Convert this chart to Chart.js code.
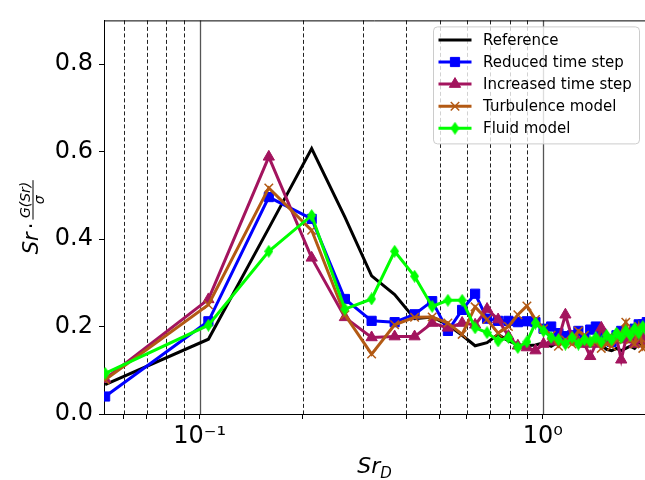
<!DOCTYPE html>
<html>
<head>
<meta charset="utf-8">
<script src="https://cdn.jsdelivr.net/npm/chart.js@4/dist/chart.umd.min.js"></script>
<style>
  html, body { margin: 0; padding: 0; background: #fff; }
  canvas { display: block; }
</style>
</head>
<body>
<canvas id="chart" width="645" height="480"></canvas>
<script>
// Strouhal numbers Sr_D, shared by all runs
const srD = [0.053, 0.106, 0.159, 0.212, 0.265, 0.317, 0.370, 0.423, 0.476, 0.529,
             0.582, 0.635, 0.688, 0.741, 0.794, 0.846, 0.899, 0.952, 1.005, 1.058,
             1.111, 1.164, 1.217, 1.270, 1.323, 1.375, 1.428, 1.481, 1.534, 1.587,
             1.640, 1.693, 1.746, 1.799, 1.852, 1.904, 1.957, 2.010];

const reference = [0.067, 0.171, 0.425, 0.607, 0.45, 0.316, 0.273, 0.218, 0.222, 0.204,
                   0.18, 0.156, 0.163, 0.182, 0.167, 0.158, 0.156, 0.158, 0.163, 0.155,
                   0.165, 0.16, 0.165, 0.16, 0.155, 0.16, 0.165, 0.158, 0.148, 0.145,
                   0.15, 0.145, 0.15, 0.155, 0.15, 0.16, 0.155, 0.155];
const reducedStep = [0.04, 0.212, 0.496, 0.446, 0.263, 0.213, 0.21, 0.228, 0.258, 0.19,
                     0.238, 0.275, 0.218, 0.213, 0.213, 0.21, 0.212, 0.21, 0.195, 0.2,
                     0.185, 0.178, 0.18, 0.19, 0.17, 0.193, 0.2, 0.185, 0.17, 0.165,
                     0.18, 0.19, 0.18, 0.185, 0.195, 0.205, 0.205, 0.21];
const increasedStep = [0.08, 0.262, 0.588, 0.357, 0.221, 0.175, 0.177, 0.177, 0.208, 0.197,
                       0.208, 0.204, 0.24, 0.216, 0.178, 0.156, 0.152, 0.145, 0.16, 0.165,
                       0.17, 0.227, 0.175, 0.165, 0.16, 0.132, 0.16, 0.197, 0.165, 0.17,
                       0.175, 0.124, 0.17, 0.185, 0.16, 0.17, 0.175, 0.16];
const turbulence = [0.078, 0.25, 0.517, 0.42, 0.227, 0.137, 0.204, 0.221, 0.222, 0.208,
                    0.182, 0.245, 0.216, 0.185, 0.2, 0.227, 0.247, 0.216, 0.195, 0.18,
                    0.155, 0.17, 0.16, 0.19, 0.18, 0.165, 0.165, 0.15, 0.16, 0.155,
                    0.17, 0.185, 0.21, 0.17, 0.16, 0.2, 0.15, 0.16];
const fluid = [0.093, 0.203, 0.372, 0.454, 0.24, 0.263, 0.372, 0.315, 0.246, 0.26,
               0.26, 0.197, 0.186, 0.167, 0.175, 0.152, 0.165, 0.208, 0.19, 0.175,
               0.17, 0.16, 0.175, 0.16, 0.17, 0.165, 0.175, 0.165, 0.18, 0.17,
               0.185, 0.175, 0.19, 0.18, 0.195, 0.185, 0.2, 0.19];

const seriesNames = ['Reference', 'Reduced time step', 'Increased time step', 'Turbulence model', 'Fluid model'];
const yTicks = [0, 0.2, 0.4, 0.6, 0.8];
const xTicks = [0.06, 0.07, 0.08, 0.09, 0.1, 0.2, 0.3, 0.4, 0.5, 0.6, 0.7, 0.8, 0.9, 1];
const xTickLabels = { 0.1: '10\u207B\u00B9', 1: '10\u2070' };

const FONT = '"DejaVu Sans", sans-serif';

// thin diamond marker ('d' in matplotlib)
function thinDiamond(color, w, h) {
  const c = document.createElement('canvas');
  c.width = w; c.height = h;
  const g = c.getContext('2d');
  g.fillStyle = color;
  g.beginPath();
  g.moveTo(w / 2, 0); g.lineTo(w, h / 2); g.lineTo(w / 2, h); g.lineTo(0, h / 2);
  g.closePath(); g.fill();
  return c;
}

const styles = [
  { color: '#000000', marker: false, r: 0 },
  { color: '#0000ff', marker: 'rect', r: 6.5 },
  { color: '#a3145e', marker: 'triangle', r: 6.5 },
  { color: '#b35a14', marker: 'crossRot', r: 6, bw: 1.5 },
  { color: '#00ff00', marker: thinDiamond('#00ff00', 9, 13), r: 6 }
];
const allSeries = [reference, reducedStep, increasedStep, turbulence, fluid];

const datasets = allSeries.map((ys, i) => {
  const s = styles[i];
  return {
    label: seriesNames[i],
    data: ys.map((y, k) => ({ x: srD[k], y: y })),
    borderColor: s.color,
    backgroundColor: s.color,
    borderWidth: 3,
    tension: 0,
    fill: false,
    order: allSeries.length - i,
    pointStyle: s.marker,
    pointRadius: s.marker ? s.r : 0,
    pointBorderWidth: s.bw || 1,
    pointBorderColor: s.color,
    pointBackgroundColor: s.color
  };
});

function drawMarker(ctx, s, x, y) {
  ctx.fillStyle = s.color;
  ctx.strokeStyle = s.color;
  ctx.lineWidth = s.bw || 1;
  ctx.beginPath();
  if (s.marker === 'rect') {
    const h = s.r * Math.SQRT1_2;
    ctx.rect(x - h, y - h, 2 * h, 2 * h);
    ctx.fill(); ctx.stroke();
  } else if (s.marker === 'triangle') {
    ctx.moveTo(x, y - s.r);
    ctx.lineTo(x + 0.866 * s.r, y + 0.5 * s.r);
    ctx.lineTo(x - 0.866 * s.r, y + 0.5 * s.r);
    ctx.closePath();
    ctx.fill(); ctx.stroke();
  } else if (s.marker === 'crossRot') {
    const d = s.r * Math.SQRT1_2;
    ctx.moveTo(x - d, y - d); ctx.lineTo(x + d, y + d);
    ctx.moveTo(x + d, y - d); ctx.lineTo(x - d, y + d);
    ctx.stroke();
  } else if (s.marker instanceof HTMLCanvasElement) {
    ctx.drawImage(s.marker, x - s.marker.width / 2, y - s.marker.height / 2);
  }
}

// dashed / solid vertical lines at every x tick, plus top spine
const gridLines = {
  id: 'gridLines',
  beforeDatasetsDraw(chart) {
    const { ctx, chartArea: a } = chart;
    const x = chart.scales.x;
    ctx.save();
    xTicks.forEach(v => {
      const px = Math.round(x.getPixelForValue(v)) + 0.5;
      const major = v === 0.1 || v === 1;
      ctx.beginPath();
      ctx.lineWidth = major ? 1.3 : 1;
      ctx.strokeStyle = major ? '#555555' : '#222222';
      ctx.setLineDash(major ? [] : [4, 2.5]);
      ctx.moveTo(px, a.top);
      ctx.lineTo(px, a.bottom);
      ctx.stroke();
    });
    ctx.setLineDash([]);
    ctx.strokeStyle = '#000';
    ctx.lineWidth = 1;
    ctx.beginPath();
    ctx.moveTo(a.left, a.top + 0.5);
    ctx.lineTo(a.right, a.top + 0.5);
    ctx.stroke();
    ctx.restore();
  }
};

// axis titles with math-like layout
const axisTitles = {
  id: 'axisTitles',
  afterDraw(chart) {
    const { ctx, chartArea: a } = chart;
    ctx.save();
    ctx.fillStyle = '#000';
    ctx.textBaseline = 'alphabetic';
    ctx.textAlign = 'left';

    // x title: Sr_D
    const cx = (a.left + a.right) / 2;
    ctx.font = 'italic 22px ' + FONT;
    const wSr = ctx.measureText('Sr').width;
    ctx.font = 'italic 15px ' + FONT;
    const wD = ctx.measureText('D').width;
    let x0 = cx - (wSr + wD) / 2;
    ctx.font = 'italic 22px ' + FONT;
    ctx.fillText('Sr', x0, 473);
    ctx.font = 'italic 15px ' + FONT;
    ctx.fillText('D', x0 + wSr, 478);

    // y title: Sr · G(Sr)/σ, rotated
    ctx.translate(38, (a.top + a.bottom) / 2);
    ctx.rotate(-Math.PI / 2);
    ctx.font = 'italic 21px ' + FONT;
    const w1 = ctx.measureText('Sr').width;
    ctx.font = '21px ' + FONT;
    const w2 = ctx.measureText('\u00B7').width + 6;
    ctx.font = 'italic 14px ' + FONT;
    const wNum = ctx.measureText('G(Sr)').width;
    const wDen = ctx.measureText('\u03C3').width;
    const wFrac = Math.max(wNum, wDen) + 3;
    const total = w1 + w2 + wFrac;
    let sx = -total / 2;
    ctx.font = 'italic 21px ' + FONT;
    ctx.fillText('Sr', sx, 0);
    sx += w1;
    ctx.font = '21px ' + FONT;
    ctx.fillText('\u00B7', sx + 3, 0);
    sx += w2;
    ctx.font = 'italic 14px ' + FONT;
    ctx.fillText('G(Sr)', sx + (wFrac - wNum) / 2, -8);
    ctx.fillText('\u03C3', sx + (wFrac - wDen) / 2, 6);
    ctx.fillRect(sx, -5.5, wFrac, 1);
    ctx.restore();
  }
};

// matplotlib-like legend: line with marker in the middle
const legendBox = {
  id: 'legendBox',
  afterDraw(chart) {
    const { ctx, chartArea: a } = chart;
    const bw = 206, bh = 117;
    const bx = a.right - 6 - bw + 0.5, by = a.top + 6 + 0.5;
    ctx.save();
    ctx.beginPath();
    ctx.roundRect(bx, by, bw, bh, 4);
    ctx.fillStyle = 'rgba(255,255,255,0.8)';
    ctx.fill();
    ctx.strokeStyle = '#cccccc';
    ctx.lineWidth = 1;
    ctx.stroke();
    ctx.font = '15px ' + FONT;
    ctx.textBaseline = 'middle';
    ctx.textAlign = 'left';
    seriesNames.forEach((name, i) => {
      const s = styles[i];
      const y = by + 13 + i * 22.1;
      ctx.strokeStyle = s.color;
      ctx.lineWidth = 3;
      ctx.beginPath();
      ctx.moveTo(bx + 5, y);
      ctx.lineTo(bx + 38, y);
      ctx.stroke();
      if (s.marker) drawMarker(ctx, s, bx + 21.5, y);
      ctx.fillStyle = '#000';
      ctx.fillText(name, bx + 49.5, y + 1);
    });
    ctx.restore();
  }
};

new Chart(document.getElementById('chart'), {
  type: 'line',
  data: { datasets: datasets },
  options: {
    responsive: false,
    animation: false,
    devicePixelRatio: 1,
    layout: { autoPadding: false, padding: { top: 12, right: 0, bottom: 0, left: 0 } },
    plugins: { legend: { display: false }, tooltip: { enabled: false } },
    scales: {
      x: {
        type: 'logarithmic',
        min: 0.0526,
        max: 1.986,
        afterBuildTicks: s => { s.ticks = xTicks.map(v => ({ value: v })); },
        afterFit: s => { s.height = 66; },
        grid: { drawOnChartArea: false, drawTicks: true, tickLength: 5, color: '#000', tickColor: '#000' },
        border: { color: '#000', width: 1 },
        ticks: {
          autoSkip: false, maxRotation: 0, padding: 3, color: '#000',
          font: { family: 'DejaVu Sans', size: 24 },
          callback: v => xTickLabels[v] || ''
        }
      },
      y: {
        min: 0,
        max: 0.9,
        afterBuildTicks: s => { s.ticks = yTicks.map(v => ({ value: v })); },
        afterFit: s => { s.width = 104; },
        grid: { drawOnChartArea: false, drawTicks: true, tickLength: 5, color: '#000', tickColor: '#000' },
        border: { color: '#000', width: 1 },
        ticks: {
          padding: 6, color: '#000',
          font: { family: 'DejaVu Sans', size: 24 },
          callback: v => v.toFixed(1)
        }
      }
    }
  },
  plugins: [gridLines, axisTitles, legendBox]
});
</script>
</body>
</html>
